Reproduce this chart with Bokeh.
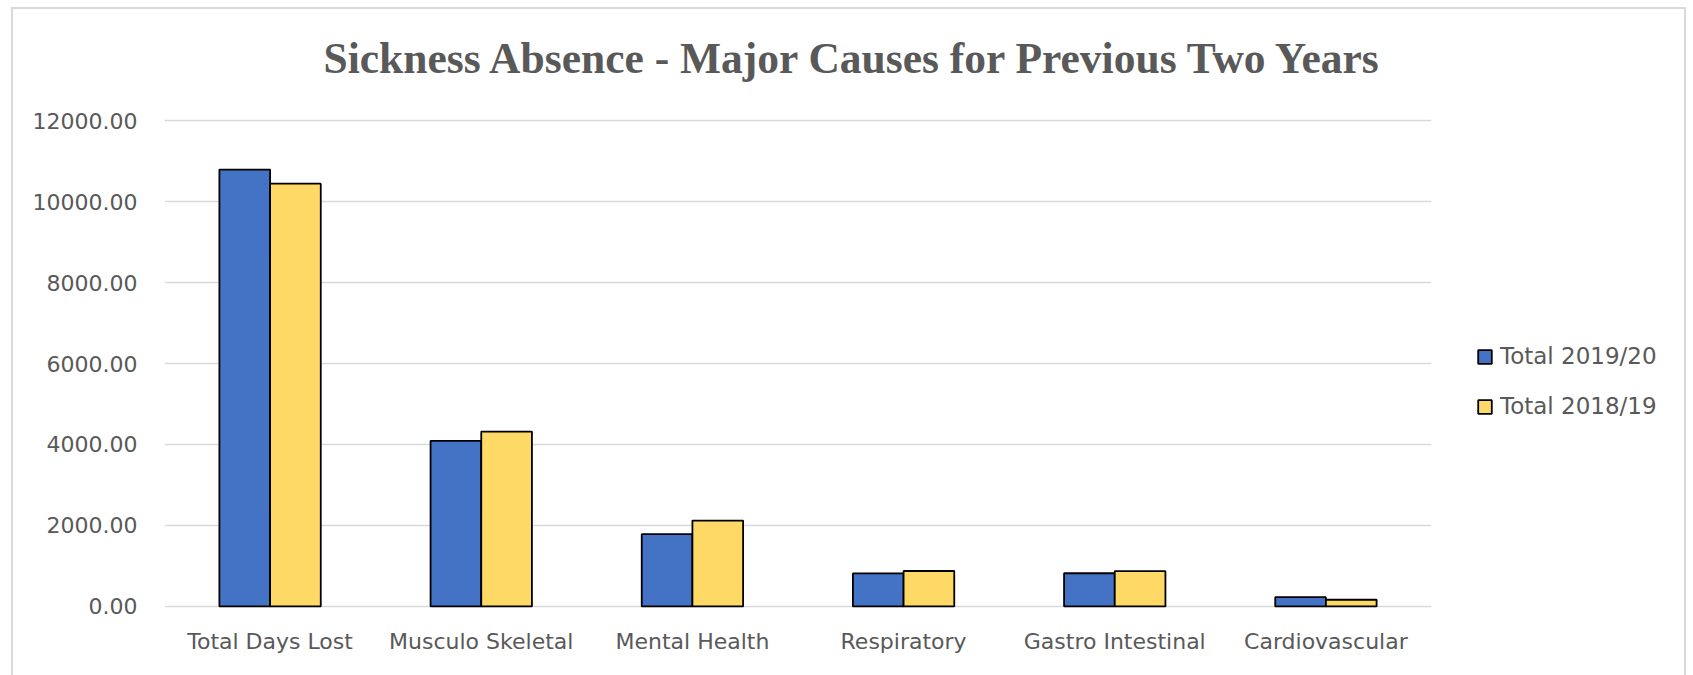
from bokeh.plotting import figure
from bokeh.models import (FactorRange, Range1d, FixedTicker, PrintfTickFormatter,
                          Legend, LegendItem, ColumnDataSource)
from bokeh.transform import dodge
from bokeh.embed import file_html
from bokeh.resources import INLINE

categories = ["Total Days Lost", "Musculo Skeletal", "Mental Health",
              "Respiratory", "Gastro Intestinal", "Cardiovascular"]
total_2019_20 = [10790, 4090, 1785, 815, 820, 230]
total_2018_19 = [10440, 4320, 2120, 875, 870, 165]
series_names = ["Total 2019/20", "Total 2018/19"]
y_ticks = [0, 2000, 4000, 6000, 8000, 10000, 12000]
title_text = "Sickness Absence - Major Causes for Previous Two Years"

TXT = "#595959"
FONT = "DejaVu Sans"
LINE = "linear-gradient(#d9d9d9, #d9d9d9)"

src = ColumnDataSource(dict(cat=categories, a=total_2019_20, b=total_2018_19))

p = figure(frame_width=1267, frame_height=494, output_backend="svg", toolbar_location=None,
           x_range=FactorRange(*categories, range_padding=0),
           y_range=Range1d(-100, 12100),
           min_border_left=164, min_border_right=262,
           min_border_top=0, min_border_bottom=65)

p.border_fill_color = None
p.background_fill_color = "white"
p.styles = {
    "background": (f"{LINE} 11px 7px / 1675px 2px no-repeat, "
                   f"{LINE} 11px 7px / 2px 700px no-repeat, "
                   f"{LINE} 1684px 7px / 2px 700px no-repeat, white"),
}

p.title.text = title_text
p.title.text_font = "Liberation Serif"
p.title.text_font_style = "bold"
p.title.text_font_size = "43.5px"
p.title.text_color = TXT
p.title.align = "left"
p.title.vertical_align = "top"
p.title.offset = 159
p.title.standoff = 66

p.outline_line_color = None
p.xgrid.grid_line_color = None
p.ygrid.grid_line_color = "#d9d9d9"
p.ygrid.grid_line_width = 1.5

p.yaxis.ticker = FixedTicker(ticks=y_ticks)
p.yaxis.formatter = PrintfTickFormatter(format="%.2f")
for ax in (p.xaxis, p.yaxis):
    ax.axis_line_color = None
    ax.major_tick_line_color = None
    ax.minor_tick_line_color = None
    ax.major_label_text_font = FONT
    ax.major_label_text_font_size = "22px"
    ax.major_label_text_color = TXT
p.yaxis.major_label_standoff = 21
p.xaxis.major_label_standoff = 12

r1 = p.vbar(x=dodge("cat", -0.12, range=p.x_range), top="a", width=0.24, source=src,
            fill_color="#4472C4", line_color="black", line_width=1.8)
r2 = p.vbar(x=dodge("cat", 0.12, range=p.x_range), top="b", width=0.24, source=src,
            fill_color="#FFD966", line_color="black", line_width=1.8)

legend = Legend(items=[LegendItem(label=series_names[0], renderers=[r1]),
                       LegendItem(label=series_names[1], renderers=[r2])],
                location=(45, 191), orientation="vertical",
                label_text_font=FONT, label_text_font_size="23px", label_text_color=TXT,
                glyph_width=17, glyph_height=17, label_standoff=7, spacing=24,
                padding=0, margin=0, border_line_color=None, background_fill_alpha=0)
p.add_layout(legend, "right")

open("out.html", "w").write(file_html(p, INLINE))
